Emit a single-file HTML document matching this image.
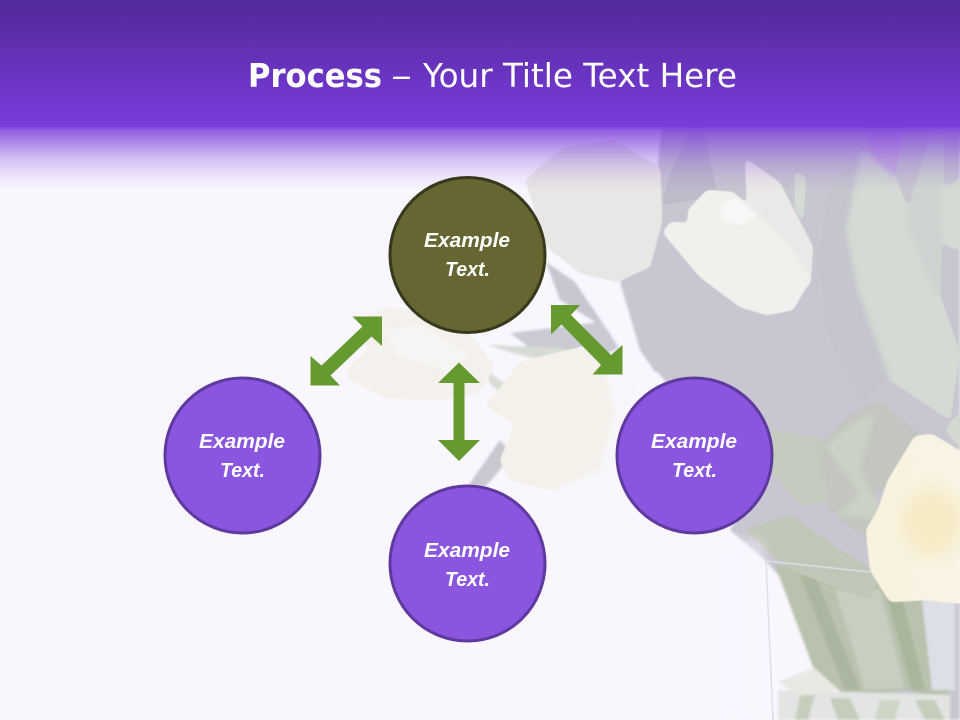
<!DOCTYPE html>
<html>
<head>
<meta charset="utf-8">
<style>
html,body{margin:0;padding:0;width:960px;height:720px;overflow:hidden;background:#f9f6fe}
svg{display:block}
</style>
</head>
<body>
<svg width="960" height="720" viewBox="0 0 960 720" xmlns="http://www.w3.org/2000/svg">
<defs>
<linearGradient id="hdr" x1="0" y1="0" x2="0" y2="1">
<stop offset="0" stop-color="#52299a"/><stop offset="1" stop-color="#7a3cdc"/>
</linearGradient>
<linearGradient id="fade" x1="0" y1="0" x2="0" y2="1">
<stop offset="0" stop-color="#7a3cdc" stop-opacity="0.95"/>
<stop offset="0.06" stop-color="#7a3cdc" stop-opacity="0.8"/>
<stop offset="0.2" stop-color="#7a3cdc" stop-opacity="0.63"/>
<stop offset="0.52" stop-color="#7a3cdc" stop-opacity="0.27"/>
<stop offset="0.76" stop-color="#7a3cdc" stop-opacity="0.1"/>
<stop offset="1" stop-color="#7a3cdc" stop-opacity="0"/>
</linearGradient>
<linearGradient id="yel" x1="0" y1="0" x2="1" y2="0">
<stop offset="0" stop-color="#f8f2de"/><stop offset="1" stop-color="#f9f4e6"/>
</linearGradient>
<filter id="r" x="-10%" y="-10%" width="120%" height="120%">
<feGaussianBlur stdDeviation="3"/>
<feComponentTransfer><feFuncA type="linear" slope="12" intercept="-5"/></feComponentTransfer>
<feGaussianBlur stdDeviation="0.6"/>
</filter>
<filter id="s" x="-5%" y="-5%" width="110%" height="110%"><feGaussianBlur stdDeviation="1.2"/></filter>
<filter id="b4" x="-50%" y="-10%" width="200%" height="120%"><feGaussianBlur stdDeviation="6"/></filter>
<filter id="b8" x="-30%" y="-30%" width="160%" height="160%"><feGaussianBlur stdDeviation="8"/></filter>
</defs>

<rect width="960" height="720" fill="#f9f6fe"/>

<g filter="url(#s)">
<path d="M662 125L960 125L960 720L880 720L860 660L800 600L765 560L730 530L745 505L770 470L690 410L653 367L620 280L650 240Z" fill="#c8c6d0"/>
<path d="M546 262L575 282L622 352L600 325L560 300Z" fill="#c8c6d0"/>
<path d="M510 333L600 322L618 348L592 362L535 352Z" fill="#cbcad2"/>
<path d="M487 345L560 348L600 362L560 366L510 352Z" fill="#d6dcd4"/>
<path d="M486 370L525 398L520 408L490 384Z" fill="#d9ded4"/>
<path d="M468 486L500 440L511 452L500 470L486 486Z" fill="#c9c8d0"/>
<path d="M620 282L640 350L655 372L680 372L640 300Z" fill="#c8c6d0"/>
<path d="M775 565L920 580L950 700L905 690L850 700L813 667Z" fill="#b8c2ad"/>
<path d="M800 575L815 575L860 690L845 690Z" fill="#aab69f"/>
<path d="M835 590L880 590L905 688L865 690Z" fill="#c6cfc0"/>
<path d="M885 590L900 590L925 690L912 690Z" fill="#a8b69e"/>
<path d="M922 600L955 600L955 690L932 690Z" fill="#dddfe6"/>
<path d="M778 690L950 695L950 720L778 720Z" fill="#e3e5e4"/>
<path d="M800 695L815 695L808 720L795 720Z" fill="#c5cebb"/>
<path d="M830 698L850 698L860 720L838 720Z" fill="#c5cebb"/>
<path d="M880 700L900 700L895 720L875 720Z" fill="#cdd5c4"/>
<path d="M915 700L935 700L945 720L925 720Z" fill="#c5cebb"/>
<path d="M778 682L813 668L838 690L800 696Z" fill="#e7e9e2"/>
</g>

<g filter="url(#r)">
<path d="M700 115Q712 175 718 195L690 200L662 205Q668 170 695 125Z" fill="#bdbac9"/>
<path d="M860 115L905 115L895 178L875 160Z" fill="#c9b6dc"/>
<path d="M862 148L897 180L937 287L960 353L950 420L890 380L857 287L846 230Z" fill="#d3dbd3"/>
<path d="M862 148L846 230L857 287L890 380L862 400L830 340L818 260L830 190Z" fill="#c5c5cd"/>
<path d="M905 220L935 120L945 125L940 300L925 270Z" fill="#cdd4d0"/>
<path d="M795 170L806 178L803 225L795 208Z" fill="#d4dbd4"/>
<path d="M940 190L975 170L975 255L945 245Z" fill="#d4dbd2"/>
<path d="M945 430L975 395L975 465Z" fill="#d2dacf"/>
<path d="M770 430L830 440L850 500L800 505L770 470Z" fill="#c5cbbf"/>
<path d="M820 450Q840 415 880 400L920 435L900 470L870 500L880 550L830 510Z" fill="#c2c5c0"/>
<path d="M826 447Q845 425 875 412L860 470L885 520L835 515L860 495Z" fill="#cbd2c5"/>
<path d="M745 530L790 515L840 550L880 575L870 600L790 570Z" fill="#bfc7b7"/>
</g>

<g filter="url(#r)">
<path d="M525 180L563 148L613 140L660 167L662 220L650 267L617 282L580 273L547 247Z" fill="#e9e6e6"/>
<path d="M745 158L780 183L813 247L810 287L770 250L747 200Z" fill="#ebe9e7"/>
<path d="M688 210L707 190L733 192L757 213L800 260L810 280L793 310L767 315L740 307L700 277L663 233L670 222L688 223Z" fill="#f2f0ed"/>
<path d="M360 320L385 308L425 312L470 335L495 365L480 392L440 400L385 398L350 380L347 368L368 350Z" fill="#f4f1ed"/>
<path d="M590 345L640 375L620 430L610 470L570 492L550 488L600 450Z" fill="#f8f6fb"/>
<path d="M520 362L560 352L590 345L605 375L615 410L600 470L550 490L510 480L500 460L515 425L485 405L495 395Z" fill="#f4f1ea"/>
<path d="M915 436L932 434L975 460L975 605L925 600L890 602L870 570L866 530L878 510L888 480Z" fill="url(#yel)"/>
</g>
<path d="M720 205L735 198L757 215L742 225L722 222Z" fill="#f8f7f5" filter="url(#s)"/>
<path d="M385 330L420 325L470 355L450 372L395 355Z" fill="#f7f5f3" filter="url(#s)"/>
<ellipse cx="932" cy="522" rx="30" ry="34" fill="#f7ebc4" filter="url(#b8)"/>

<path d="M766 561L870 572M766 561L773 720" stroke="#dcdde6" stroke-width="1.5" fill="none"/>
<rect x="735" y="540" width="28" height="180" fill="#f9f6fe" opacity="0.5" filter="url(#b4)"/>

<rect x="0" y="0" width="960" height="127" fill="url(#hdr)"/>
<rect x="0" y="127" width="960" height="64" fill="url(#fade)"/>

<g font-family="'DejaVu Sans',sans-serif" font-size="32.5" fill="#fff">
<text x="248" y="87" font-weight="bold" textLength="134" lengthAdjust="spacingAndGlyphs">Process</text>
<text x="391" y="87" textLength="21" lengthAdjust="spacingAndGlyphs">–</text>
<text x="423" y="87" textLength="314" lengthAdjust="spacingAndGlyphs">Your Title Text Here</text>
</g>

<g fill="#659a30">
<polygon points="382,316.5 352.5,316.5 362.5,326.5 321.5,365.5 310.5,356 310.5,385.5 340,385.5 330.5,375.5 371.5,336.5 382,346"/>
<polygon points="551,305 580,305 571,315 611,355 622.5,345 622.5,374.5 592.5,374.5 601,365 561.5,324.5 551,334.5"/>
<polygon points="459,362.5 480,383 464.5,383 464.5,440 480,440 459,461 438,440 453.5,440 453.5,383 438,383"/>
</g>

<circle cx="467.5" cy="255" r="77.5" fill="#666633" stroke="#38381c" stroke-width="3"/>
<circle cx="242.5" cy="455.5" r="77.5" fill="#8a56e0" stroke="#5f3a9e" stroke-width="3"/>
<circle cx="694.5" cy="455.5" r="77.5" fill="#8a56e0" stroke="#5f3a9e" stroke-width="3"/>
<circle cx="467.5" cy="563.5" r="77.5" fill="#8a56e0" stroke="#5f3a9e" stroke-width="3"/>

<g font-family="'Liberation Sans',sans-serif" font-size="20" font-weight="bold" font-style="italic" fill="#fff">
<text x="424" y="247" textLength="86" lengthAdjust="spacingAndGlyphs">Example</text>
<text x="445" y="276" textLength="45" lengthAdjust="spacingAndGlyphs">Text.</text>
<text x="199" y="448" textLength="86" lengthAdjust="spacingAndGlyphs">Example</text>
<text x="220" y="477" textLength="45" lengthAdjust="spacingAndGlyphs">Text.</text>
<text x="651" y="448" textLength="86" lengthAdjust="spacingAndGlyphs">Example</text>
<text x="672" y="477" textLength="45" lengthAdjust="spacingAndGlyphs">Text.</text>
<text x="424" y="557" textLength="86" lengthAdjust="spacingAndGlyphs">Example</text>
<text x="445" y="586" textLength="45" lengthAdjust="spacingAndGlyphs">Text.</text>
</g>
</svg>
</body>
</html>
